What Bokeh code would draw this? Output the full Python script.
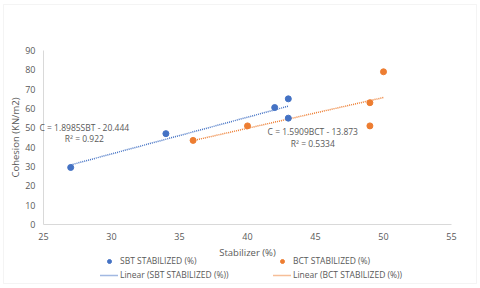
from bokeh.plotting import figure
from bokeh.models import Legend, LegendItem, Label, FixedTicker, BoxAnnotation
from bokeh.embed import file_html
from bokeh.resources import INLINE

# ---- data ----
sbt_x = [27, 34, 42, 43, 43]
sbt_y = [29.5, 47, 60.5, 65, 55]
bct_x = [36, 40, 49, 49, 50]
bct_y = [43.5, 51, 63, 51, 79]
sbt_slope, sbt_intercept, sbt_r2 = 1.8985, -20.444, "0.922"
bct_slope, bct_intercept, bct_r2 = 1.5909, -13.873, "0.5334"
x_ticks = [25, 30, 35, 40, 45, 50, 55]
y_ticks = [0, 10, 20, 30, 40, 50, 60, 70, 80, 90]
series_names = ["SBT STABILIZED (%)", "BCT STABILIZED (%)"]

BLUE = "#4472C4"
ORANGE = "#ED7D31"
TXT = "#595959"
AX = "#D9D9D9"
FONT = "Open Sans"

# layout (pixels): plot area inside the chart box
LEFT, RIGHT, TOP, BOTTOM = 43, 29, 50, 64
AREA_W, AREA_H = 408, 174
W, H = LEFT + AREA_W + RIGHT, TOP + AREA_H + BOTTOM
ux = (x_ticks[-1] - x_ticks[0]) / AREA_W
uy = (y_ticks[-1] - y_ticks[0]) / AREA_H
x0 = x_ticks[0] - LEFT * ux
y0 = y_ticks[0] - BOTTOM * uy

p = figure(width=W, height=H, output_backend="svg", toolbar_location=None,
           x_range=(x0, x_ticks[-1] + RIGHT * ux),
           y_range=(y0, y_ticks[-1] + TOP * uy),
           min_border_left=0, min_border_right=0, min_border_top=0, min_border_bottom=0)
p.outline_line_color = None
p.xgrid.visible = False
p.ygrid.visible = False

# chart box border
p.add_layout(BoxAnnotation(left=x0 + 3 * ux, right=x0 + 476 * ux,
                           bottom=y0 + (H - 283) * uy, top=y0 + (H - 4) * uy,
                           fill_alpha=0, line_color=AX, line_width=1))

for ax in (p.xaxis[0], p.yaxis[0]):
    ax.axis_line_color = AX
    ax.major_tick_line_color = None
    ax.minor_tick_line_color = None
    ax.major_tick_out = 0
    ax.major_tick_in = 0
    ax.minor_tick_out = 0
    ax.minor_tick_in = 0
    ax.major_label_standoff = 8
    ax.major_label_text_color = TXT
    ax.major_label_text_font = FONT
    ax.major_label_text_font_size = "9px"
    ax.axis_label_text_color = TXT
    ax.axis_label_text_font = FONT
    ax.axis_label_text_font_size = "9.5px"
    ax.axis_label_text_font_style = "normal"
p.xaxis.axis_label_standoff = 3
p.yaxis.axis_label_standoff = 0
p.xaxis.ticker = FixedTicker(ticks=x_ticks)
p.yaxis.ticker = FixedTicker(ticks=y_ticks)
p.xaxis.fixed_location = y_ticks[0]
p.yaxis.fixed_location = x_ticks[0]
p.xaxis.bounds = (x_ticks[0], x_ticks[-1])
p.yaxis.bounds = (y_ticks[0], y_ticks[-1])
p.xaxis.axis_label = "Stabilizer (%)"
p.yaxis.axis_label = "Cohesion (KN/m2)"

# trend lines over each series' x range
sbt_tx = [min(sbt_x), max(sbt_x)]
sbt_ty = [sbt_slope * v + sbt_intercept for v in sbt_tx]
bct_tx = [min(bct_x), max(bct_x)]
bct_ty = [bct_slope * v + bct_intercept for v in bct_tx]

r_sbt_line = p.line(sbt_tx, sbt_ty, line_color=BLUE, line_width=1.5, line_dash="1 1")
r_bct_line = p.line(bct_tx, bct_ty, line_color=ORANGE, line_width=1.5, line_dash="1 1")
r_sbt = p.scatter(sbt_x, sbt_y, size=6, fill_color=BLUE, line_color=BLUE)
r_bct = p.scatter(bct_x, bct_y, size=6, fill_color=ORANGE, line_color=ORANGE)

# equation labels
def add_label(x, y, text):
    p.add_layout(Label(x=x, y=y, text=text, text_align="center", text_baseline="middle",
                       text_font=FONT, text_font_size="8.5px", text_color=TXT))

add_label(28.0, 50.0, f"C = {sbt_slope}SBT - {abs(sbt_intercept)}")
add_label(28.0, 44.3, f"R\u00b2 = {sbt_r2}")
add_label(44.8, 48.1, f"C = {bct_slope}BCT - {abs(bct_intercept)}")
add_label(44.8, 42.0, f"R\u00b2 = {bct_r2}")

# legend: 2 x 2 grid below the plot area
def add_legend(label, rend, loc):
    lg = Legend(items=[LegendItem(label=label, renderers=[rend])], location=loc,
                padding=0, margin=0, border_line_color=None, background_fill_alpha=0,
                glyph_width=18, glyph_height=10, label_height=10, label_standoff=2,
                label_text_font=FONT, label_text_font_size="8.5px", label_text_color=TXT)
    p.add_layout(lg)

add_legend(series_names[0], r_sbt, (100, 22))
add_legend(series_names[1], r_bct, (273, 22))
add_legend(f"Linear ({series_names[0]})", r_sbt_line, (100, 8))
add_legend(f"Linear ({series_names[1]})", r_bct_line, (273, 8))

open("out.html", "w").write(file_html(p, INLINE))
